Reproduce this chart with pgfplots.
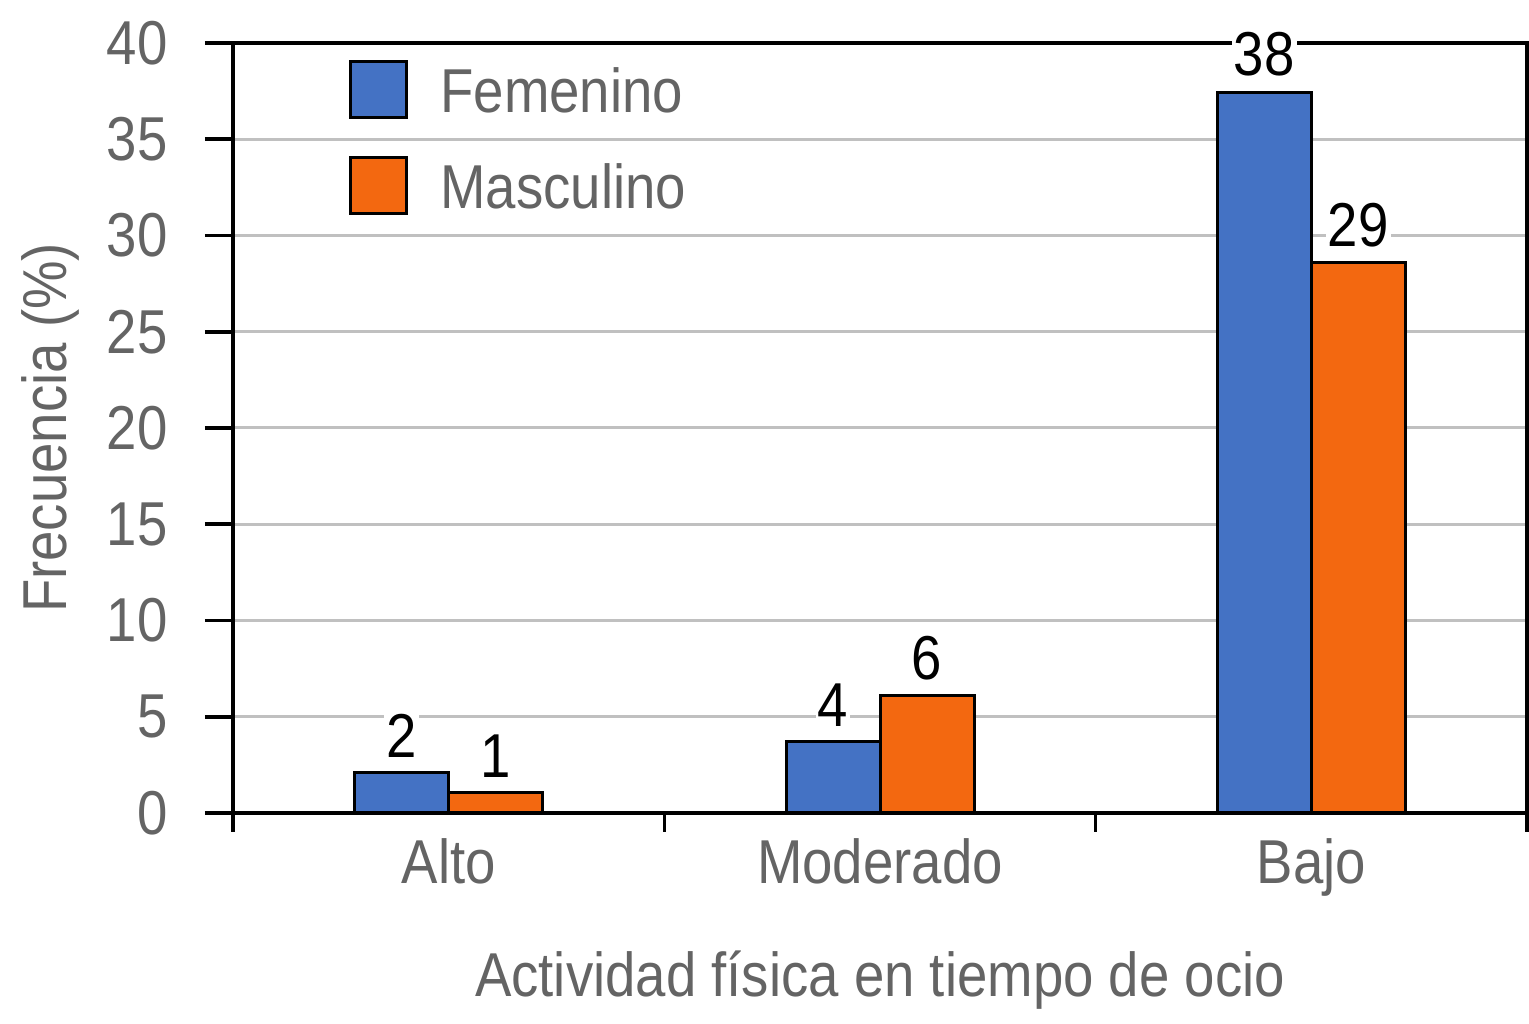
\documentclass[border=0pt]{standalone}
\usepackage{pgfplots}
\pgfplotsset{compat=1.18}
\usepackage{fontspec}
\setmainfont{Liberation Sans}[FakeStretch=0.88]
\definecolor{fem}{RGB}{68,114,196}
\definecolor{masc}{RGB}{243,104,16}
\definecolor{txt}{RGB}{100,100,100}
\definecolor{gridc}{RGB}{192,192,192}
\newcommand\bigf{\fontsize{31bp}{36bp}\selectfont}
\begin{document}
\begin{tikzpicture}
\begin{axis}[
  name=ax,
  scale only axis,
  width=647bp, height=385bp,
  xmin=-0.5, xmax=2.5, ymin=0, ymax=40,
  ybar=0pt, bar width=47bp,
  axis line style={black, line width=1.8bp},
  xtick={0,1,2},
  xticklabels={Alto,Moderado,Bajo},
  minor xtick={-0.5,0.5,1.5,2.5},
  ytick={0,5,...,40},
  tick pos=left,
  tick align=outside,
  major tick length=14bp,
  minor tick length=9.5bp,
  every tick/.style={black, line width=1.8bp},
  every major x tick/.style={draw=none},
  ymajorgrids,
  major grid style={gridc, line width=1.5bp},
  /pgf/number format/assume math mode=true,
  ticklabel style={font=\bigf, text=txt},
  yticklabel style={inner sep=0pt, xshift=-18.5bp},
  xticklabel style={inner sep=0pt, anchor=base, yshift=-21.5bp},
  xlabel={Actividad física en tiempo de ocio},
  ylabel={Frecuencia (\%)},
  label style={font=\bigf, text=txt},
  xlabel style={at={(axis description cs:0.5,0)}, anchor=base, yshift=-92bp},
  ylabel style={at={(axis description cs:0,0.5)}, anchor=base, yshift=83bp},
  point meta=explicit symbolic,
  nodes near coords,
  every node near coord/.append style={font=\bigf, text=black, fill=white, inner sep=1bp, anchor=south, yshift=6bp},
  legend cell align=left,
  legend style={draw=none, fill=none, font=\bigf, text=txt,
    at={(axis description cs:0,1)}, anchor=north west, xshift=58bp, yshift=-8.5bp,
    inner sep=0pt, row sep=18.5bp, column sep=16bp,
    nodes={inner sep=0pt, text height=26bp, text depth=3bp}},
  legend image code/.code={\draw[#1, line width=1.5bp] (0bp,-14bp) rectangle (28bp,14bp);},
]
\addplot[fill=fem, draw=black, line width=1.5bp] coordinates {(0,2.1) [2] (1,3.7) [4] (2,37.45) [38]};
\addplot[fill=masc, draw=black, line width=1.5bp] coordinates {(0,1.05) [1] (1,6.1) [6] (2,28.6) [29]};
\legend{Femenino, Masculino}
\end{axis}
\pgfresetboundingbox
\path[use as bounding box] ([xshift=-116.5bp,yshift=-105.5bp]ax.south west) rectangle ([xshift=1bp,yshift=21.5bp]ax.north east);
\end{tikzpicture}
\end{document}
